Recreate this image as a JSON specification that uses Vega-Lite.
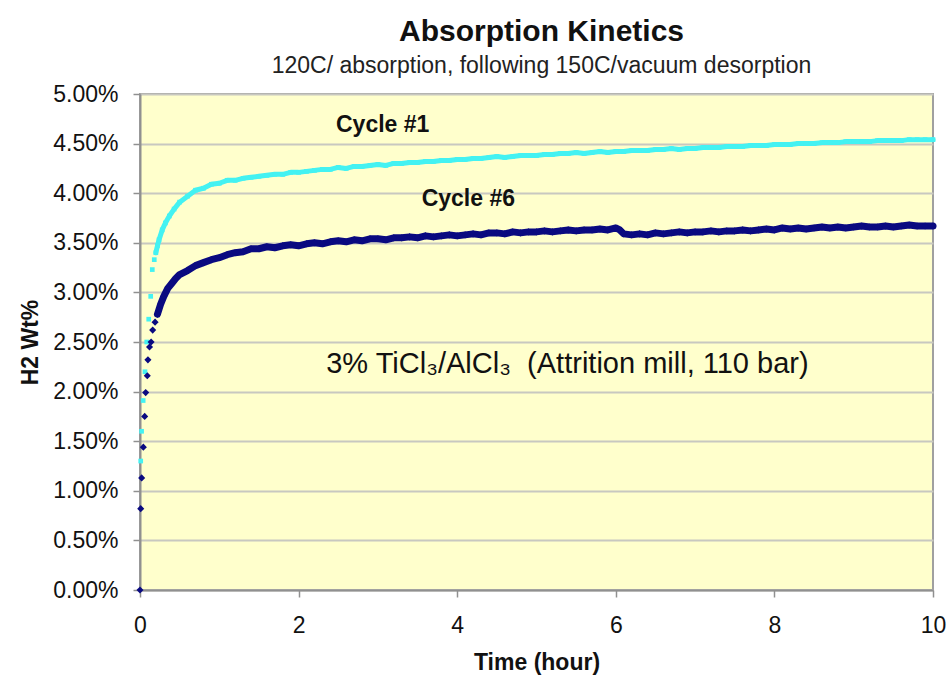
{
  "$schema": "https://vega.github.io/schema/vega-lite/v6.json",
  "autosize": "none",
  "width": 793,
  "height": 496,
  "padding": {"left": 140, "top": 94, "right": 17, "bottom": 90},
  "background": "white",
  "title": {
    "text": "Absorption Kinetics",
    "subtitle": "120C/ absorption, following 150C/vacuum desorption",
    "anchor": "middle",
    "font": "Liberation Sans",
    "fontSize": 30,
    "fontWeight": "bold",
    "color": "#111111",
    "subtitleFont": "Liberation Sans",
    "subtitleFontSize": 23,
    "subtitleColor": "#222222",
    "subtitlePadding": 8,
    "offset": 5,
    "dx": 5
  },
  "config": {
    "font": "Liberation Sans",
    "view": {"fill": "#FFFFCC", "stroke": "#A0A0A0", "strokeWidth": 2},
    "axis": {
      "domainColor": "#909090",
      "domainWidth": 2,
      "tickColor": "#909090",
      "tickWidth": 1.5,
      "tickSize": 7,
      "labelColor": "#111111",
      "labelFont": "Liberation Sans",
      "titleFont": "Liberation Sans",
      "titleColor": "#111111",
      "titleFontWeight": "bold"
    }
  },
  "datasets": {
    "curves": [
      {"series": "Cycle #1", "t": 0.009, "v": 1.30},
      {"series": "Cycle #1", "t": 0.02, "v": 1.60},
      {"series": "Cycle #1", "t": 0.04, "v": 1.91},
      {"series": "Cycle #1", "t": 0.063, "v": 2.20},
      {"series": "Cycle #1", "t": 0.085, "v": 2.50},
      {"series": "Cycle #1", "t": 0.11, "v": 2.73},
      {"series": "Cycle #1", "t": 0.135, "v": 2.96},
      {"series": "Cycle #1", "t": 0.155, "v": 3.23},
      {"series": "Cycle #1", "t": 0.18, "v": 3.33},
      {"series": "Cycle #1", "t": 0.20, "v": 3.40},
      {"series": "Cycle #1", "t": 0.22, "v": 3.47},
      {"series": "Cycle #1", "t": 0.24, "v": 3.53},
      {"series": "Cycle #1", "t": 0.28, "v": 3.63},
      {"series": "Cycle #1", "t": 0.32, "v": 3.70},
      {"series": "Cycle #1", "t": 0.37, "v": 3.77},
      {"series": "Cycle #1", "t": 0.43, "v": 3.84},
      {"series": "Cycle #1", "t": 0.5, "v": 3.91},
      {"series": "Cycle #1", "t": 0.6, "v": 3.97},
      {"series": "Cycle #1", "t": 0.7, "v": 4.03},
      {"series": "Cycle #1", "t": 0.8, "v": 4.05},
      {"series": "Cycle #1", "t": 0.9, "v": 4.09},
      {"series": "Cycle #1", "t": 1.0, "v": 4.10},
      {"series": "Cycle #1", "t": 1.1, "v": 4.13},
      {"series": "Cycle #1", "t": 1.2, "v": 4.13},
      {"series": "Cycle #1", "t": 1.3, "v": 4.15},
      {"series": "Cycle #1", "t": 1.4, "v": 4.16},
      {"series": "Cycle #1", "t": 1.5, "v": 4.17},
      {"series": "Cycle #1", "t": 1.6, "v": 4.18},
      {"series": "Cycle #1", "t": 1.7, "v": 4.19},
      {"series": "Cycle #1", "t": 1.8, "v": 4.19},
      {"series": "Cycle #1", "t": 1.9, "v": 4.21},
      {"series": "Cycle #1", "t": 2.0, "v": 4.21},
      {"series": "Cycle #1", "t": 2.1, "v": 4.22},
      {"series": "Cycle #1", "t": 2.2, "v": 4.23},
      {"series": "Cycle #1", "t": 2.3, "v": 4.24},
      {"series": "Cycle #1", "t": 2.4, "v": 4.24},
      {"series": "Cycle #1", "t": 2.5, "v": 4.26},
      {"series": "Cycle #1", "t": 2.6, "v": 4.25},
      {"series": "Cycle #1", "t": 2.7, "v": 4.27},
      {"series": "Cycle #1", "t": 2.8, "v": 4.27},
      {"series": "Cycle #1", "t": 2.9, "v": 4.28},
      {"series": "Cycle #1", "t": 3.0, "v": 4.29},
      {"series": "Cycle #1", "t": 3.1, "v": 4.28},
      {"series": "Cycle #1", "t": 3.2, "v": 4.30},
      {"series": "Cycle #1", "t": 3.3, "v": 4.30},
      {"series": "Cycle #1", "t": 3.4, "v": 4.31},
      {"series": "Cycle #1", "t": 3.5, "v": 4.31},
      {"series": "Cycle #1", "t": 3.6, "v": 4.32},
      {"series": "Cycle #1", "t": 3.7, "v": 4.32},
      {"series": "Cycle #1", "t": 3.8, "v": 4.33},
      {"series": "Cycle #1", "t": 3.9, "v": 4.33},
      {"series": "Cycle #1", "t": 4.0, "v": 4.34},
      {"series": "Cycle #1", "t": 4.1, "v": 4.34},
      {"series": "Cycle #1", "t": 4.2, "v": 4.35},
      {"series": "Cycle #1", "t": 4.3, "v": 4.35},
      {"series": "Cycle #1", "t": 4.4, "v": 4.36},
      {"series": "Cycle #1", "t": 4.5, "v": 4.37},
      {"series": "Cycle #1", "t": 4.6, "v": 4.36},
      {"series": "Cycle #1", "t": 4.7, "v": 4.37},
      {"series": "Cycle #1", "t": 4.8, "v": 4.38},
      {"series": "Cycle #1", "t": 4.9, "v": 4.38},
      {"series": "Cycle #1", "t": 5.0, "v": 4.38},
      {"series": "Cycle #1", "t": 5.1, "v": 4.39},
      {"series": "Cycle #1", "t": 5.2, "v": 4.39},
      {"series": "Cycle #1", "t": 5.3, "v": 4.40},
      {"series": "Cycle #1", "t": 5.4, "v": 4.40},
      {"series": "Cycle #1", "t": 5.5, "v": 4.41},
      {"series": "Cycle #1", "t": 5.6, "v": 4.40},
      {"series": "Cycle #1", "t": 5.7, "v": 4.41},
      {"series": "Cycle #1", "t": 5.8, "v": 4.42},
      {"series": "Cycle #1", "t": 5.9, "v": 4.41},
      {"series": "Cycle #1", "t": 6.0, "v": 4.42},
      {"series": "Cycle #1", "t": 6.1, "v": 4.42},
      {"series": "Cycle #1", "t": 6.2, "v": 4.43},
      {"series": "Cycle #1", "t": 6.3, "v": 4.43},
      {"series": "Cycle #1", "t": 6.4, "v": 4.43},
      {"series": "Cycle #1", "t": 6.5, "v": 4.44},
      {"series": "Cycle #1", "t": 6.6, "v": 4.44},
      {"series": "Cycle #1", "t": 6.7, "v": 4.45},
      {"series": "Cycle #1", "t": 6.8, "v": 4.44},
      {"series": "Cycle #1", "t": 6.9, "v": 4.45},
      {"series": "Cycle #1", "t": 7.0, "v": 4.45},
      {"series": "Cycle #1", "t": 7.1, "v": 4.46},
      {"series": "Cycle #1", "t": 7.2, "v": 4.46},
      {"series": "Cycle #1", "t": 7.3, "v": 4.46},
      {"series": "Cycle #1", "t": 7.4, "v": 4.47},
      {"series": "Cycle #1", "t": 7.5, "v": 4.47},
      {"series": "Cycle #1", "t": 7.6, "v": 4.47},
      {"series": "Cycle #1", "t": 7.7, "v": 4.48},
      {"series": "Cycle #1", "t": 7.8, "v": 4.48},
      {"series": "Cycle #1", "t": 7.9, "v": 4.48},
      {"series": "Cycle #1", "t": 8.0, "v": 4.49},
      {"series": "Cycle #1", "t": 8.1, "v": 4.49},
      {"series": "Cycle #1", "t": 8.2, "v": 4.49},
      {"series": "Cycle #1", "t": 8.3, "v": 4.50},
      {"series": "Cycle #1", "t": 8.4, "v": 4.50},
      {"series": "Cycle #1", "t": 8.5, "v": 4.50},
      {"series": "Cycle #1", "t": 8.6, "v": 4.51},
      {"series": "Cycle #1", "t": 8.7, "v": 4.51},
      {"series": "Cycle #1", "t": 8.8, "v": 4.51},
      {"series": "Cycle #1", "t": 8.9, "v": 4.52},
      {"series": "Cycle #1", "t": 9.0, "v": 4.52},
      {"series": "Cycle #1", "t": 9.1, "v": 4.52},
      {"series": "Cycle #1", "t": 9.2, "v": 4.52},
      {"series": "Cycle #1", "t": 9.3, "v": 4.53},
      {"series": "Cycle #1", "t": 9.4, "v": 4.53},
      {"series": "Cycle #1", "t": 9.5, "v": 4.53},
      {"series": "Cycle #1", "t": 9.6, "v": 4.53},
      {"series": "Cycle #1", "t": 9.7, "v": 4.54},
      {"series": "Cycle #1", "t": 9.8, "v": 4.54},
      {"series": "Cycle #1", "t": 9.9, "v": 4.54},
      {"series": "Cycle #1", "t": 10.0, "v": 4.54},
      {"series": "Cycle #6", "t": 0.0, "v": 0.00},
      {"series": "Cycle #6", "t": 0.009, "v": 0.82},
      {"series": "Cycle #6", "t": 0.021, "v": 1.13},
      {"series": "Cycle #6", "t": 0.042, "v": 1.44},
      {"series": "Cycle #6", "t": 0.059, "v": 1.75},
      {"series": "Cycle #6", "t": 0.072, "v": 1.99},
      {"series": "Cycle #6", "t": 0.092, "v": 2.16},
      {"series": "Cycle #6", "t": 0.10, "v": 2.32},
      {"series": "Cycle #6", "t": 0.12, "v": 2.45},
      {"series": "Cycle #6", "t": 0.14, "v": 2.50},
      {"series": "Cycle #6", "t": 0.16, "v": 2.62},
      {"series": "Cycle #6", "t": 0.19, "v": 2.70},
      {"series": "Cycle #6", "t": 0.22, "v": 2.78},
      {"series": "Cycle #6", "t": 0.26, "v": 2.88},
      {"series": "Cycle #6", "t": 0.30, "v": 2.96},
      {"series": "Cycle #6", "t": 0.35, "v": 3.04},
      {"series": "Cycle #6", "t": 0.40, "v": 3.09},
      {"series": "Cycle #6", "t": 0.45, "v": 3.14},
      {"series": "Cycle #6", "t": 0.5, "v": 3.18},
      {"series": "Cycle #6", "t": 0.6, "v": 3.22},
      {"series": "Cycle #6", "t": 0.7, "v": 3.27},
      {"series": "Cycle #6", "t": 0.8, "v": 3.30},
      {"series": "Cycle #6", "t": 0.9, "v": 3.33},
      {"series": "Cycle #6", "t": 1.0, "v": 3.35},
      {"series": "Cycle #6", "t": 1.1, "v": 3.38},
      {"series": "Cycle #6", "t": 1.2, "v": 3.40},
      {"series": "Cycle #6", "t": 1.3, "v": 3.41},
      {"series": "Cycle #6", "t": 1.4, "v": 3.44},
      {"series": "Cycle #6", "t": 1.5, "v": 3.44},
      {"series": "Cycle #6", "t": 1.6, "v": 3.46},
      {"series": "Cycle #6", "t": 1.7, "v": 3.45},
      {"series": "Cycle #6", "t": 1.8, "v": 3.47},
      {"series": "Cycle #6", "t": 1.9, "v": 3.48},
      {"series": "Cycle #6", "t": 2.0, "v": 3.47},
      {"series": "Cycle #6", "t": 2.1, "v": 3.49},
      {"series": "Cycle #6", "t": 2.2, "v": 3.50},
      {"series": "Cycle #6", "t": 2.3, "v": 3.49},
      {"series": "Cycle #6", "t": 2.4, "v": 3.51},
      {"series": "Cycle #6", "t": 2.5, "v": 3.52},
      {"series": "Cycle #6", "t": 2.6, "v": 3.51},
      {"series": "Cycle #6", "t": 2.7, "v": 3.53},
      {"series": "Cycle #6", "t": 2.8, "v": 3.52},
      {"series": "Cycle #6", "t": 2.9, "v": 3.54},
      {"series": "Cycle #6", "t": 3.0, "v": 3.54},
      {"series": "Cycle #6", "t": 3.1, "v": 3.53},
      {"series": "Cycle #6", "t": 3.2, "v": 3.55},
      {"series": "Cycle #6", "t": 3.3, "v": 3.55},
      {"series": "Cycle #6", "t": 3.4, "v": 3.56},
      {"series": "Cycle #6", "t": 3.5, "v": 3.55},
      {"series": "Cycle #6", "t": 3.6, "v": 3.57},
      {"series": "Cycle #6", "t": 3.7, "v": 3.56},
      {"series": "Cycle #6", "t": 3.8, "v": 3.57},
      {"series": "Cycle #6", "t": 3.9, "v": 3.58},
      {"series": "Cycle #6", "t": 4.0, "v": 3.57},
      {"series": "Cycle #6", "t": 4.1, "v": 3.58},
      {"series": "Cycle #6", "t": 4.2, "v": 3.59},
      {"series": "Cycle #6", "t": 4.3, "v": 3.58},
      {"series": "Cycle #6", "t": 4.4, "v": 3.60},
      {"series": "Cycle #6", "t": 4.5, "v": 3.60},
      {"series": "Cycle #6", "t": 4.6, "v": 3.59},
      {"series": "Cycle #6", "t": 4.7, "v": 3.61},
      {"series": "Cycle #6", "t": 4.8, "v": 3.60},
      {"series": "Cycle #6", "t": 4.9, "v": 3.61},
      {"series": "Cycle #6", "t": 5.0, "v": 3.61},
      {"series": "Cycle #6", "t": 5.1, "v": 3.62},
      {"series": "Cycle #6", "t": 5.2, "v": 3.61},
      {"series": "Cycle #6", "t": 5.3, "v": 3.62},
      {"series": "Cycle #6", "t": 5.4, "v": 3.63},
      {"series": "Cycle #6", "t": 5.5, "v": 3.62},
      {"series": "Cycle #6", "t": 5.6, "v": 3.63},
      {"series": "Cycle #6", "t": 5.7, "v": 3.63},
      {"series": "Cycle #6", "t": 5.8, "v": 3.64},
      {"series": "Cycle #6", "t": 5.9, "v": 3.63},
      {"series": "Cycle #6", "t": 6.0, "v": 3.65},
      {"series": "Cycle #6", "t": 6.05, "v": 3.63},
      {"series": "Cycle #6", "t": 6.1, "v": 3.59},
      {"series": "Cycle #6", "t": 6.2, "v": 3.58},
      {"series": "Cycle #6", "t": 6.3, "v": 3.59},
      {"series": "Cycle #6", "t": 6.4, "v": 3.58},
      {"series": "Cycle #6", "t": 6.5, "v": 3.60},
      {"series": "Cycle #6", "t": 6.6, "v": 3.59},
      {"series": "Cycle #6", "t": 6.7, "v": 3.60},
      {"series": "Cycle #6", "t": 6.8, "v": 3.61},
      {"series": "Cycle #6", "t": 6.9, "v": 3.60},
      {"series": "Cycle #6", "t": 7.0, "v": 3.61},
      {"series": "Cycle #6", "t": 7.1, "v": 3.61},
      {"series": "Cycle #6", "t": 7.2, "v": 3.62},
      {"series": "Cycle #6", "t": 7.3, "v": 3.61},
      {"series": "Cycle #6", "t": 7.4, "v": 3.62},
      {"series": "Cycle #6", "t": 7.5, "v": 3.62},
      {"series": "Cycle #6", "t": 7.6, "v": 3.63},
      {"series": "Cycle #6", "t": 7.7, "v": 3.62},
      {"series": "Cycle #6", "t": 7.8, "v": 3.63},
      {"series": "Cycle #6", "t": 7.9, "v": 3.64},
      {"series": "Cycle #6", "t": 8.0, "v": 3.63},
      {"series": "Cycle #6", "t": 8.1, "v": 3.65},
      {"series": "Cycle #6", "t": 8.2, "v": 3.64},
      {"series": "Cycle #6", "t": 8.3, "v": 3.65},
      {"series": "Cycle #6", "t": 8.4, "v": 3.64},
      {"series": "Cycle #6", "t": 8.5, "v": 3.65},
      {"series": "Cycle #6", "t": 8.6, "v": 3.66},
      {"series": "Cycle #6", "t": 8.7, "v": 3.65},
      {"series": "Cycle #6", "t": 8.8, "v": 3.66},
      {"series": "Cycle #6", "t": 8.9, "v": 3.65},
      {"series": "Cycle #6", "t": 9.0, "v": 3.66},
      {"series": "Cycle #6", "t": 9.1, "v": 3.67},
      {"series": "Cycle #6", "t": 9.2, "v": 3.66},
      {"series": "Cycle #6", "t": 9.3, "v": 3.66},
      {"series": "Cycle #6", "t": 9.4, "v": 3.67},
      {"series": "Cycle #6", "t": 9.5, "v": 3.66},
      {"series": "Cycle #6", "t": 9.6, "v": 3.67},
      {"series": "Cycle #6", "t": 9.7, "v": 3.68},
      {"series": "Cycle #6", "t": 9.8, "v": 3.67},
      {"series": "Cycle #6", "t": 9.9, "v": 3.67},
      {"series": "Cycle #6", "t": 10.0, "v": 3.67}
    ],
    "cycleLabels": [
      {"label": "Cycle #1", "t": 3.06, "v": 4.69},
      {"label": "Cycle #6", "t": 4.14, "v": 3.94}
    ],
    "note": [
      {"label": "3% TiCl₃/AlCl₃\u00a0 (Attrition mill, 110 bar)", "t": 5.39, "v": 2.28}
    ]
  },
  "layer": [
    {
      "data": {"name": "curves"},
      "transform": [{"filter": "datum.t >= 0.2"}],
      "mark": {"type": "line", "interpolate": "linear", "strokeCap": "round", "strokeJoin": "round"},
      "encoding": {
        "x": {
          "field": "t", "type": "quantitative",
          "scale": {"domain": [0, 10], "nice": false, "zero": false},
          "axis": {
            "values": [0, 2, 4, 6, 8, 10],
            "format": "d",
            "grid": false,
            "title": "Time (hour)",
            "titleFontSize": 23,
            "titlePadding": 14,
            "labelFontSize": 23,
            "labelPadding": 17,
            "labelFlush": false
          }
        },
        "y": {
          "field": "v", "type": "quantitative",
          "scale": {"domain": [0, 5], "nice": false, "zero": true},
          "axis": {
            "values": [0, 0.5, 1, 1.5, 2, 2.5, 3, 3.5, 4, 4.5, 5],
            "labelExpr": "format(datum.value, '.2f') + '%'",
            "grid": true,
            "gridColor": "#C8C8C0",
            "gridWidth": 2,
            "title": "H2 Wt%",
            "titleFontSize": 23,
            "titlePadding": 10,
            "labelFontSize": 23,
            "labelPadding": 15
          }
        },
        "color": {
          "field": "series", "type": "nominal",
          "scale": {"domain": ["Cycle #1", "Cycle #6"], "range": ["#44F2F2", "#0A0A80"]},
          "legend": null
        },
        "strokeWidth": {
          "field": "series", "type": "nominal",
          "scale": {"domain": ["Cycle #1", "Cycle #6"], "range": [5, 7]},
          "legend": null
        },
        "order": {"field": "t", "type": "quantitative"}
      }
    },
    {
      "data": {"name": "curves"},
      "mark": {"type": "point", "filled": true, "opacity": 1},
      "encoding": {
        "x": {"field": "t", "type": "quantitative"},
        "y": {"field": "v", "type": "quantitative"},
        "color": {"field": "series", "type": "nominal", "legend": null},
        "shape": {
          "field": "series", "type": "nominal",
          "scale": {"domain": ["Cycle #1", "Cycle #6"], "range": ["square", "diamond"]},
          "legend": null
        },
        "size": {
          "field": "series", "type": "nominal",
          "scale": {"domain": ["Cycle #1", "Cycle #6"], "range": [22, 50]},
          "legend": null
        }
      }
    },
    {
      "data": {"name": "cycleLabels"},
      "mark": {"type": "text", "align": "center", "baseline": "middle", "color": "#111111", "font": "Liberation Sans", "fontSize": 23, "fontWeight": "bold"},
      "encoding": {
        "x": {"field": "t", "type": "quantitative"},
        "y": {"field": "v", "type": "quantitative"},
        "text": {"field": "label"}
      }
    },
    {
      "data": {"name": "note"},
      "mark": {"type": "text", "align": "center", "baseline": "middle", "color": "#111111", "font": "Liberation Sans", "fontSize": 29},
      "encoding": {
        "x": {"field": "t", "type": "quantitative"},
        "y": {"field": "v", "type": "quantitative"},
        "text": {"field": "label"}
      }
    }
  ]
}
